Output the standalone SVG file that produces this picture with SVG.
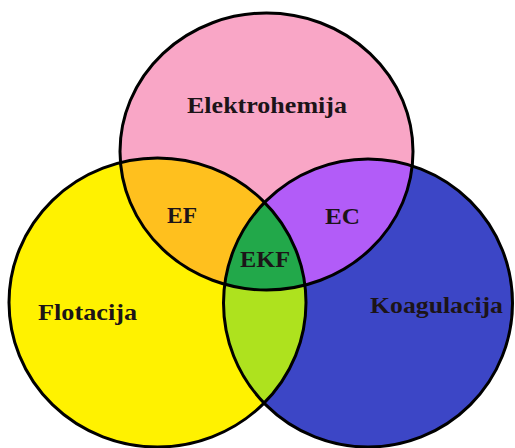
<svg xmlns="http://www.w3.org/2000/svg" width="515" height="448" viewBox="0 0 515 448">
<style>
.lbl{font-family:"Liberation Serif","Times New Roman",serif;font-weight:bold;font-size:22.5px;fill:#1c1418}
.edge{fill:none;stroke:#000;stroke-width:3}
</style>
<defs>
<clipPath id="cpPink"><ellipse cx="266.5" cy="151.5" rx="146.5" ry="138.5"/></clipPath>
<clipPath id="cpYellow"><ellipse cx="157.5" cy="302.5" rx="148.5" ry="144.5"/></clipPath>
</defs>
<rect width="515" height="448" fill="#fff"/>
<g id="flotacija">
<ellipse cx="157.5" cy="302.5" rx="148.5" ry="144.5" fill="#FFF200"/>
</g>
<g id="koagulacija">
<ellipse cx="368" cy="303" rx="144.5" ry="144" fill="#3C46C6"/>
</g>
<g id="elektrohemija">
<ellipse cx="266.5" cy="151.5" rx="146.5" ry="138.5" fill="#F9A6C6"/>
</g>
<g id="ef" clip-path="url(#cpPink)">
<ellipse cx="157.5" cy="302.5" rx="148.5" ry="144.5" fill="#FFC01E"/>
</g>
<g id="ec" clip-path="url(#cpPink)">
<ellipse cx="368" cy="303" rx="144.5" ry="144" fill="#B25CF8"/>
</g>
<g id="fc" clip-path="url(#cpYellow)">
<ellipse cx="368" cy="303" rx="144.5" ry="144" fill="#AEE21E"/>
</g>
<g id="ekf" clip-path="url(#cpPink)">
<g clip-path="url(#cpYellow)">
<ellipse cx="368" cy="303" rx="144.5" ry="144" fill="#22A84A"/>
</g>
</g>
<g id="outlines">
<ellipse class="edge" cx="157.5" cy="302.5" rx="148.5" ry="144.5"/>
<ellipse class="edge" cx="368" cy="303" rx="144.5" ry="144"/>
<ellipse class="edge" cx="266.5" cy="151.5" rx="146.5" ry="138.5"/>
</g>
<g id="labels">
<text class="lbl" x="187" y="113" textLength="160" lengthAdjust="spacingAndGlyphs">Elektrohemija</text>
<text class="lbl" x="38" y="320" textLength="99" lengthAdjust="spacingAndGlyphs">Flotacija</text>
<text class="lbl" x="370" y="313" textLength="133" lengthAdjust="spacingAndGlyphs">Koagulacija</text>
<text class="lbl" x="167" y="223" textLength="30" lengthAdjust="spacingAndGlyphs">EF</text>
<text class="lbl" x="325" y="224" textLength="35" lengthAdjust="spacingAndGlyphs">EC</text>
<text class="lbl" x="240" y="267" textLength="50" lengthAdjust="spacingAndGlyphs">EKF</text>
</g>
</svg>
